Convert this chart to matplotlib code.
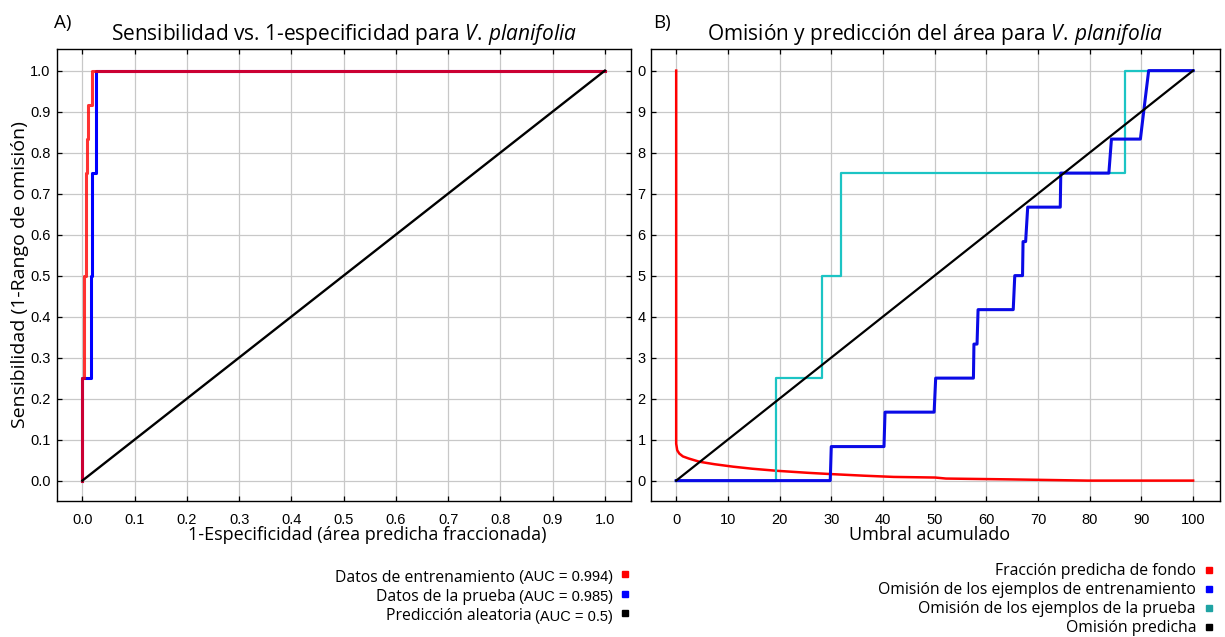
import numpy as np
import matplotlib.pyplot as plt
from matplotlib.lines import Line2D

# Curva ROC: datos de entrenamiento y de prueba (esquinas de los escalones)
roc_train_x = [0.0, 0.004, 0.006, 0.008, 0.010, 0.018, 1.0]
roc_train_y = [0.0, 0.25, 0.5, 0.75, 0.833, 0.917, 1.0]
roc_test_x = [0.0, 0.016, 0.018, 0.0255, 1.0]
roc_test_y = [0.0, 0.25, 0.5, 0.75, 1.0]
roc_random = [0.0, 1.0]

# Omision vs. umbral acumulado
fondo_x = [0, 0, 0.2, 0.6, 1.3, 2.4, 4.5, 7.4, 11.0, 14.7, 19.4, 25.5, 29.8,
           36.3, 42.1, 50.1, 52.2, 64.5, 79.7, 100]
fondo_y = [1.0, 0.09, 0.074, 0.066, 0.059, 0.054, 0.046, 0.040, 0.034, 0.029,
           0.024, 0.019, 0.016, 0.012, 0.009, 0.0075, 0.005, 0.003, 0.0, 0.0]
om_train_x = [0, 29.8, 30.0, 40.2, 40.4, 49.9, 50.2, 57.5, 57.6, 58.2, 58.4,
              65.2, 65.5, 67.0, 67.1, 67.6, 68.0, 74.3, 74.4, 83.7, 84.2,
              89.8, 90.6, 91.4, 100]
om_train_y = [0, 0, 0.083, 0.083, 0.167, 0.167, 0.25, 0.25, 0.333, 0.333,
              0.417, 0.417, 0.5, 0.5, 0.583, 0.583, 0.667, 0.667, 0.75, 0.75,
              0.833, 0.833, 0.917, 1.0, 1.0]
om_test_x = [0, 19.4, 28.2, 31.9, 86.9, 100]
om_test_y = [0, 0.25, 0.5, 0.75, 1.0, 1.0]
om_pred_x = [0, 100]
om_pred_y = [0.0, 1.0]

ticks_a = np.round(np.arange(0, 1.01, 0.1), 1)
ticklabels_a = [f"{t:.1f}" for t in ticks_a]
ticks_b_x = list(range(0, 101, 10))
ticks_b_y = ticks_a
ticklabels_b_y = ["0", "1", "2", "3", "4", "5", "6", "7", "8", "9", "0"]

leyenda_a = ["Datos de entrenamiento", "Datos de la prueba", "Predicción aleatoria"]
auc_a = ["0.994", "0.985", "0.5"]
colores_a = ["#ff0000", "#0000ff", "#000000"]
leyenda_b = ["Fracción predicha de fondo", "Omisión de los ejemplos de entrenamiento",
             "Omisión de los ejemplos de la prueba", "Omisión predicha"]
colores_b = ["#ff0000", "#0000ff", "#1fa3a3", "#000000"]

plt.rcParams['font.family'] = ['Liberation Sans', 'DejaVu Sans']
plt.rcParams['mathtext.fontset'] = 'custom'
plt.rcParams['mathtext.rm'] = 'Open Sans'
plt.rcParams['mathtext.it'] = 'Open Sans:italic'

W, H = 1225, 637
fig = plt.figure(figsize=(W / 100, H / 100), dpi=100)


def px_box(x0, y0, x1, y1):
    return [x0 / W, 1 - y1 / H, (x1 - x0) / W, (y1 - y0) / H]


def style_axes(ax):
    ax.grid(True, color="#c8c8c8", lw=0.9)
    ax.set_axisbelow(True)
    ax.tick_params(direction="in", top=True, right=True, length=3.3,
                   width=0.9, labelsize=10.5)
    ax.tick_params(axis="x", pad=8.5)
    for s in ax.spines.values():
        s.set_linewidth(1.0)


ax_a = fig.add_axes(px_box(57.3, 49.3, 631, 500.7))
ax_b = fig.add_axes(px_box(650.7, 49.3, 1220, 500.7))

# A) curva ROC
ax_a.plot(roc_test_x, roc_test_y, color="#0000ff", lw=2.2, drawstyle="steps-pre")
ax_a.plot(roc_train_x, roc_train_y, color="#ff0000", lw=2.2, alpha=0.8,
          drawstyle="steps-pre")
ax_a.plot(roc_random, roc_random, color="black", lw=1.7)
ax_a.set_xlim(-0.048, 1.05)
ax_a.set_ylim(-0.049, 1.052)
ax_a.set_xticks(ticks_a, ticklabels_a)
ax_a.set_yticks(ticks_a, ticklabels_a)
style_axes(ax_a)
ax_a.tick_params(axis="y", pad=4.8)
ax_a.set_title(r"Sensibilidad vs. 1-especificidad para $\mathit{V.\,planifolia}$",
               fontsize=15, family="Open Sans", pad=7.0)
ax_a.set_xlabel("1-Especificidad (área predicha fraccionada)", fontsize=13,
                family="Open Sans", labelpad=-1)
ax_a.xaxis.set_label_coords(0.54, -0.055)
ax_a.set_ylabel("Sensibilidad (1-Rango de omisión)", fontsize=14,
                family="Open Sans", labelpad=1)

# B) omision y area predicha
ax_b.plot(fondo_x, fondo_y, color="#ff0000", lw=1.8)
ax_b.plot(om_test_x, om_test_y, color="#1cc4c4", lw=1.6, drawstyle="steps-post")
ax_b.plot(om_train_x, om_train_y, color="#0a0ae6", lw=2.2)
ax_b.plot(om_pred_x, om_pred_y, color="black", lw=1.6)
ax_b.set_xlim(-4.93, 105.2)
ax_b.set_ylim(-0.049, 1.052)
ax_b.set_xticks(ticks_b_x)
ax_b.set_yticks(ticks_b_y, ticklabels_b_y)
style_axes(ax_b)
ax_b.tick_params(axis="y", pad=3.6)
ax_b.set_title(r"Omisión y predicción del área para $\mathit{V.\,planifolia}$",
               fontsize=15, family="Open Sans", pad=7.0)
ax_b.set_xlabel("Umbral acumulado", fontsize=13, family="Open Sans", labelpad=-1)
ax_b.xaxis.set_label_coords(0.49, -0.055)

fig.text(54 / W, 1 - 28 / H, "A)", fontsize=13.5, family="Open Sans", va="baseline")
fig.text(653 / W, 1 - 28 / H, "B)", fontsize=13.5, family="Open Sans", va="baseline")


def square(x, y, color):
    fig.add_artist(Line2D([x / W], [1 - y / H], marker="s", ms=4.3, color=color,
                          lw=0, transform=fig.transFigure))


# leyenda A
for i, (lab, auc, col) in enumerate(zip(leyenda_a, auc_a, colores_a)):
    yb = 581.5 + 19.5 * i
    t = fig.text(613 / W, 1 - yb / H, f"(AUC = {auc})", ha="right", va="baseline",
                 fontsize=10.5)
    ax_a.annotate(lab, xy=(0, 1 - yb / H), xycoords=(t, "figure fraction"),
                  xytext=(-2.5, 0), textcoords="offset points", ha="right",
                  va="baseline", fontsize=11.3, family="Open Sans")
    square(625, yb - 7.5, col)

# leyenda B
for i, (lab, col) in enumerate(zip(leyenda_b, colores_b)):
    yb = 575 + 19 * i
    fig.text(1196 / W, 1 - yb / H, lab, ha="right", va="baseline", fontsize=11.3,
             family="Open Sans")
    square(1209, yb - 5, col)

fig.savefig("out.png", dpi=100)
